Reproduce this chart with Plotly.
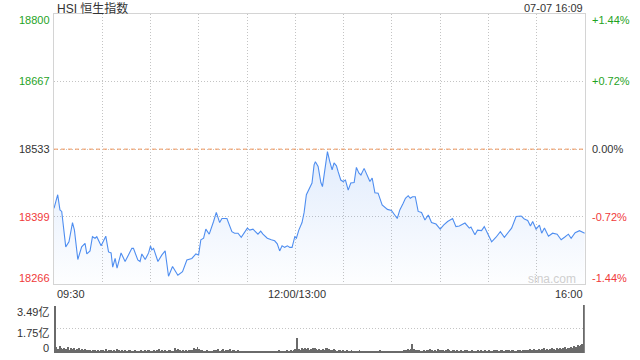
import plotly.graph_objects as go

# ---------------- data ----------------
title_text = "HSI 恒生指数"
stamp_text = "07-07 16:09"
prev_close = 18533

# minute index from 09:30 (0) .. 16:00 (330); 12:00 and 13:00 share index 150
minutes = [0, 2.3, 3.7, 4.8, 7.3, 9.3, 11.5, 12.7, 14.8, 17.2, 19.3, 20.4, 22.4, 23.9, 25.5, 26.6,
           29.3, 32.2, 33.9, 35.5, 36.5, 38, 39.2, 41.7, 44.2, 48.4, 49.4, 52.1, 53.5, 54.6, 56.7,
           58.8, 60, 60.8, 61.9, 64.6, 67.1, 69.1, 71.2, 73.7, 77, 79.9, 82.6, 85.7, 88.2, 89.9,
           91.3, 93, 94.4, 96.5, 99.2, 100.9, 103, 104.4, 107.5, 110.6, 112.3, 114.4, 116.4,
           118.5, 120.2, 121.7, 123.7, 126.8, 128.5, 129.9, 132.6, 135.1, 137.2, 138.8, 140.3,
           141.8, 143.4, 145.1, 146.6, 148, 149.7, 150.7, 152.2, 154.2, 155.5, 156.9, 159, 160.4,
           161.7, 162.5, 164.2, 165.9, 166.9, 168.3, 170, 171.5, 172.9, 174.1, 175.6, 176.6, 178.3,
           179.7, 181.2, 182.9, 184.5, 186.6, 188, 189.5, 190.8, 192.8, 194.9, 196.4, 197.8, 199.5,
           201.5, 204, 207.3, 209.8, 213.4, 215, 217.1, 218.5, 220.2, 221.5, 222.9, 224.6, 226.4,
           228.5, 230.6, 232.7, 234.7, 237.5, 240.1, 242.2, 244.7, 247.8, 249.9, 252, 255.5, 258.2,
           259.2, 261.7, 263.3, 265.8, 267.5, 269.6, 272.1, 274.8, 277.5, 280, 282.5, 284.5, 287.3,
           290.4, 292.4, 294.5, 296.2, 297.6, 299.7, 301.8, 303.2, 304.9, 307.4, 310, 312.8, 315.3,
           317.4, 319.8, 321.5, 324, 326.7, 330]
prices = [18416, 18443, 18413, 18410, 18340, 18350, 18388, 18373, 18315, 18340, 18347, 18326,
          18332, 18360, 18357, 18360, 18342, 18361, 18330, 18328, 18300, 18317, 18298, 18328,
          18311, 18337, 18337, 18314, 18311, 18326, 18315, 18328, 18342, 18334, 18337, 18311,
          18324, 18332, 18282, 18301, 18284, 18291, 18314, 18317, 18326, 18324, 18354, 18357,
          18375, 18365, 18390, 18408, 18388, 18396, 18396, 18370, 18367, 18367, 18359, 18370,
          18377, 18373, 18375, 18365, 18371, 18365, 18357, 18354, 18352, 18346, 18332, 18342,
          18339, 18342, 18339, 18339, 18360, 18357, 18373, 18388, 18408, 18443, 18459, 18466,
          18502, 18508, 18499, 18467, 18459, 18489, 18528, 18508, 18492, 18506, 18500, 18489,
          18472, 18469, 18472, 18452, 18466, 18467, 18497, 18486, 18482, 18495, 18479, 18469,
          18476, 18447, 18446, 18423, 18414, 18412, 18396, 18413, 18426, 18436, 18441, 18436,
          18439, 18439, 18410, 18408, 18393, 18403, 18388, 18385, 18375, 18383, 18390, 18396,
          18380, 18381, 18387, 18377, 18379, 18364, 18373, 18372, 18380, 18367, 18350, 18359,
          18370, 18359, 18370, 18377, 18400, 18401, 18395, 18392, 18381, 18390, 18375, 18383,
          18367, 18377, 18361, 18367, 18365, 18354, 18359, 18365, 18357, 18368, 18372, 18367]

# volume per minute, in 亿
volume = [3.45,
          0.45, 0.3, 0.5, 0.35, 0.28, 0.4, 0.3, 0.45, 0.25, 0.35,
          0.3, 0.4, 0.22, 0.3, 0.35, 0.25, 0.3, 0.2, 0.28, 0.22,
          0.25, 0.2, 0.18, 0.25, 0.2, 0.15, 0.22, 0.18, 0.2, 0.25,
          0.18, 0.3, 0.15, 0.2, 0.25, 0.12, 0.22, 0.18, 0.3, 0.2,
          0.15, 0.2, 0.18, 0.22, 0.15, 0.2, 0.25, 0.18, 0.15, 0.2,
          0.12, 0.18, 0.15, 0.2, 0.14, 0.22, 0.18, 0.25, 0.2, 0.15,
          0.18, 0.22, 0.15, 0.2, 0.3, 0.18, 0.2, 0.15, 0.22, 0.18,
          0.25, 0.2, 0.15, 0.18, 0.4, 0.22, 0.3, 0.2, 0.15, 0.25,
          0.18, 0.2, 0.15, 0.22, 0.25, 0.2, 0.35, 0.28, 0.45, 0.3,
          0.2, 0.25, 0.18, 0.15, 0.2, 0.12, 0.18, 0.15, 0.2, 0.25,
          0.2, 0.3, 0.15, 0.22, 0.3, 0.18, 0.25, 0.2, 0.3, 0.15,
          0.2, 0.25, 0.15, 0.2, 0.12, 0.18, 0.15, 0.1, 0.15, 0.12,
          0.15, 0.1, 0.12, 0.15, 0.1, 0.12, 0.08, 0.12, 0.1, 0.15,
          0.1, 0.12, 0.08, 0.1, 0.12, 0.15, 0.1, 0.12, 0.15, 0.2,
          0.15, 0.12, 0.18, 0.15, 0.2, 0.15, 0.22, 0.18, 0.25, 0.3,
          1.1, 0.3, 0.25, 0.35, 0.3, 0.4, 0.3, 0.35, 0.25, 0.3,
          0.4, 0.35, 0.3, 0.25, 0.3, 0.22, 0.3, 0.25, 0.35, 0.4,
          0.3, 0.25, 0.2, 0.28, 0.22, 0.18, 0.25, 0.2, 0.15, 0.22,
          0.18, 0.2, 0.15, 0.18, 0.22, 0.15, 0.12, 0.18, 0.15, 0.2,
          0.15, 0.12, 0.18, 0.15, 0.12, 0.1, 0.15, 0.12, 0.18, 0.15,
          0.12, 0.15, 0.2, 0.15, 0.18, 0.12, 0.15, 0.1, 0.12, 0.15,
          0.12, 0.1, 0.15, 0.12, 0.18, 0.15, 0.12, 0.2, 0.25, 0.3,
          0.25, 0.3, 0.65, 0.3, 0.2, 0.25, 0.2, 0.15, 0.18, 0.22,
          0.15, 0.2, 0.25, 0.3, 0.2, 0.15, 0.22, 0.18, 0.3, 0.25,
          0.2, 0.25, 0.18, 0.22, 0.3, 0.2, 0.15, 0.25, 0.2, 0.18,
          0.22, 0.15, 0.2, 0.18, 0.15, 0.2, 0.22, 0.15, 0.18, 0.2,
          0.15, 0.12, 0.18, 0.2, 0.15, 0.22, 0.18, 0.2, 0.15, 0.18,
          0.2, 0.15, 0.18, 0.22, 0.2, 0.25, 0.18, 0.2, 0.22, 0.18,
          0.2, 0.25, 0.2, 0.18, 0.22, 0.2, 0.15, 0.18, 0.2, 0.25,
          0.18, 0.22, 0.2, 0.25, 0.2, 0.3, 0.25, 0.22, 0.3, 0.2,
          0.25, 0.3, 0.2, 0.28, 0.35, 0.25, 0.3, 0.22, 0.3, 0.35,
          0.3, 0.25, 0.35, 0.3, 0.4, 0.3, 0.35, 0.45, 0.3, 0.4,
          0.35, 0.45, 0.4, 0.5, 0.45, 0.55, 0.5, 0.6, 0.65,
          3.49]
vol_minutes = list(range(len(volume)))

price_ticks = [18800, 18667, 18533, 18399, 18266]
pct_labels = ["+1.44%", "+0.72%", "0.00%", "-0.72%", "-1.44%"]
vol_ticks = [3.49, 1.75, 0]
vol_labels = ["3.49亿", "1.75亿", "0"]
grid_minutes = list(range(0, 331, 30))
time_labels = ["09:30", "12:00/13:00", "16:00"]
time_label_minutes = [0, 150, 330]

# ---------------- styling helpers ----------------
W, H = 640, 360
def px(x):
    return x / W
def py(y):
    return 1 - y / H

GREEN = "#1fa31f"
RED = "#f03a3a"
DARK = "#333333"
LINE = "#4f8ef0"
GRID = "#c4c4c4"
DOT = "1px,2px"
FONT = "Liberation Sans, Arial, Noto Sans CJK SC, sans-serif"

fig = go.Figure()

fig.add_trace(go.Scatter(
    x=minutes, y=prices, mode="lines",
    line=dict(color=LINE, width=1.1),
    fill="tozeroy",
    fillgradient=dict(type="vertical",
                      colorscale=[[0, "rgba(79,142,240,0.01)"], [1, "rgba(79,142,240,0.17)"]],
                      start=18266, stop=18533),
    hoverinfo="skip", xaxis="x", yaxis="y", showlegend=False))

fig.add_trace(go.Bar(
    x=vol_minutes, y=volume, width=0.6,
    marker=dict(color="#6a6a6a", line=dict(width=0)),
    hoverinfo="skip", xaxis="x2", yaxis="y2", showlegend=False))

xdom = [px(54), px(584.8)]
fig.update_layout(
    width=W, height=H, margin=dict(l=0, r=0, t=0, b=0),
    paper_bgcolor="white", plot_bgcolor="white",
    font=dict(family=FONT, size=11, color=DARK),
    bargap=0,
    xaxis=dict(domain=xdom, range=[0, 330], tickvals=grid_minutes, showticklabels=False,
               ticks="", showgrid=True, gridcolor=GRID, griddash=DOT, gridwidth=1,
               showline=True, linecolor="#d4d4d4", linewidth=1, mirror=True,
               zeroline=False, anchor="y", fixedrange=True),
    yaxis=dict(domain=[py(284.3), py(14)], range=[18266, 18800], tickvals=price_ticks,
               showticklabels=False, ticks="", showgrid=True, gridcolor=GRID, griddash=DOT,
               showline=True, linecolor="#d4d4d4", linewidth=1, mirror=True,
               zeroline=False, anchor="x", fixedrange=True),
    xaxis2=dict(domain=xdom, range=[-0.45, 330.45], showticklabels=False, ticks="",
                showgrid=False, showline=False, zeroline=False, anchor="y2", fixedrange=True),
    yaxis2=dict(domain=[py(353), py(305)], range=[0, 3.49], tickvals=[1.75, 3.49],
                showticklabels=False, ticks="", showgrid=True, gridcolor=GRID, griddash=DOT,
                showline=False, zeroline=False, anchor="x2", fixedrange=True),
)

# previous-close reference line
fig.add_shape(type="line", xref="x", yref="y", x0=0, x1=330, y0=prev_close, y1=prev_close,
              line=dict(color="#f0965a", width=1, dash="4px,3px"))

ann = []
ann.append(dict(text=title_text, x=px(54.5), y=py(8.5), xanchor="left", yanchor="middle",
                font=dict(size=12, color=DARK)))
ann.append(dict(text=stamp_text, x=px(584.5), y=py(7.5), xanchor="right", yanchor="middle",
                font=dict(size=11, color=DARK)))

left_y = [20, 81.5, 149.3, 217.3, 278.3]
left_col = [GREEN, GREEN, DARK, RED, RED]
for v, yy, c in zip(price_ticks, left_y, left_col):
    ann.append(dict(text=str(v), x=px(51.5), y=py(yy), xanchor="right", yanchor="middle",
                    font=dict(size=11, color=c)))
for t, yy, c in zip(pct_labels, left_y, left_col):
    ann.append(dict(text=t, x=px(589.5), y=py(yy), xanchor="left", yanchor="middle",
                    font=dict(size=11, color=c)))

x_anchor = ["left", "center", "right"]
x_pos = [54.5, 296.5, 584.5]
for t, xa, xx in zip(time_labels, x_anchor, x_pos):
    ann.append(dict(text=t, x=px(xx), y=py(293.5), xanchor=xa, yanchor="middle",
                    font=dict(size=11, color=DARK)))

vol_y = [312, 332.5, 348.3]
for t, yy in zip(vol_labels, vol_y):
    ann.append(dict(text=t, x=px(51), y=py(yy), xanchor="right", yanchor="middle",
                    font=dict(size=11, color=DARK)))

ann.append(dict(text="sina.com", x=px(552), y=py(279), xanchor="center", yanchor="middle",
                font=dict(size=12, color="#cfcfcf")))

for a in ann:
    a.update(xref="paper", yref="paper", showarrow=False)
fig.update_layout(annotations=ann)

fig.write_html("out.html")
